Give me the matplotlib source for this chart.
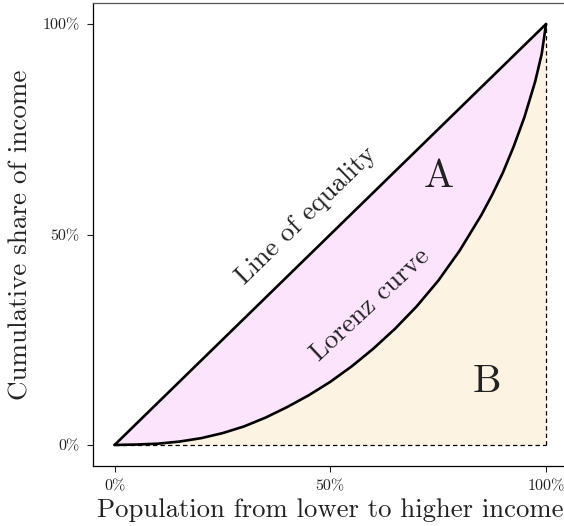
import matplotlib
matplotlib.use("Agg")
import matplotlib.pyplot as plt
import numpy as np

plt.rcParams['font.family'] = ['cmr10', 'DejaVu Serif']
plt.rcParams['axes.formatter.use_mathtext'] = True
plt.rcParams['mathtext.fontset'] = 'cm'

# Data
population = [0.0, 0.05, 0.10, 0.15, 0.20, 0.25, 0.30, 0.35, 0.40, 0.45, 0.50,
              0.55, 0.60, 0.65, 0.70, 0.75, 0.80, 0.85, 0.875, 0.90, 0.925, 0.95,
              0.975, 0.99, 1.0]
income_share = [0.0, 0.001, 0.003, 0.008, 0.016, 0.028, 0.044, 0.065, 0.090, 0.118, 0.150,
                0.187, 0.229, 0.276, 0.329, 0.390, 0.462, 0.546, 0.594, 0.647, 0.709, 0.779,
                0.864, 0.929, 1.0]
equality_x = [0.0, 1.0]
equality_y = [0.0, 1.0]
tick_values = [0.0, 0.5, 1.0]
tick_labels = ['0%', '50%', '100%']

x = np.array(population)
y = np.array(income_share)

fig = plt.figure(figsize=(5.64, 5.26), dpi=100)
ax = fig.add_axes([93/564, 60/526, (567.6-93)/564, 463/526])

col_A = '#fce4fd'
col_B = '#fdf3e3'

ax.fill_between(x, y, x, color=col_A, lw=0, zorder=1)
ax.fill_between(x, 0, y, color=col_B, lw=0, zorder=1)

ax.plot([0, 1], [0, 0], color='black', lw=0.9, ls=(0, (3.5, 2.5)), zorder=2)
ax.plot([1, 1], [0, 1], color='black', lw=0.9, ls=(0, (3.5, 2.5)), zorder=2)
ax.plot(equality_x, equality_y, color='black', lw=1.9, zorder=3, solid_capstyle='round')
ax.plot(x, y, color='black', lw=1.9, zorder=3, solid_capstyle='round', solid_joinstyle='round')

ax.set_xlim(-0.05, 1.05)
ax.set_ylim(-0.05, 1.05)
ax.set_xticks(tick_values)
ax.set_xticklabels(tick_labels)
ax.set_yticks(tick_values)
ax.set_yticklabels(tick_labels)
ax.tick_params(axis='both', labelsize=11.5, length=4.5, width=0.8, colors='#222222', pad=5)

ax.set_xlabel('Population from lower to higher income', fontsize=19.2, labelpad=4, color='#222222')
ax.set_ylabel('Cumulative share of income', fontsize=19.5, labelpad=7, color='#222222')

ax.text(0.444, 0.545, 'Line of equality', rotation=44.3, fontsize=19.5, color='#222222',
        ha='center', va='center', rotation_mode='anchor')
ax.text(0.593, 0.333, 'Lorenz curve', rotation=43, fontsize=19.5, color='#222222',
        ha='center', va='center', rotation_mode='anchor')
ax.text(0.752, 0.637, 'A', fontsize=29, color='#222222', ha='center', va='center')
ax.text(0.862, 0.150, 'B', fontsize=29, color='#222222', ha='center', va='center')

for s in ax.spines.values():
    s.set_linewidth(0.9)
ax.spines['right'].set_visible(False)
ax.spines['top'].set_color('#555555')

fig.savefig('out.png', dpi=100)
